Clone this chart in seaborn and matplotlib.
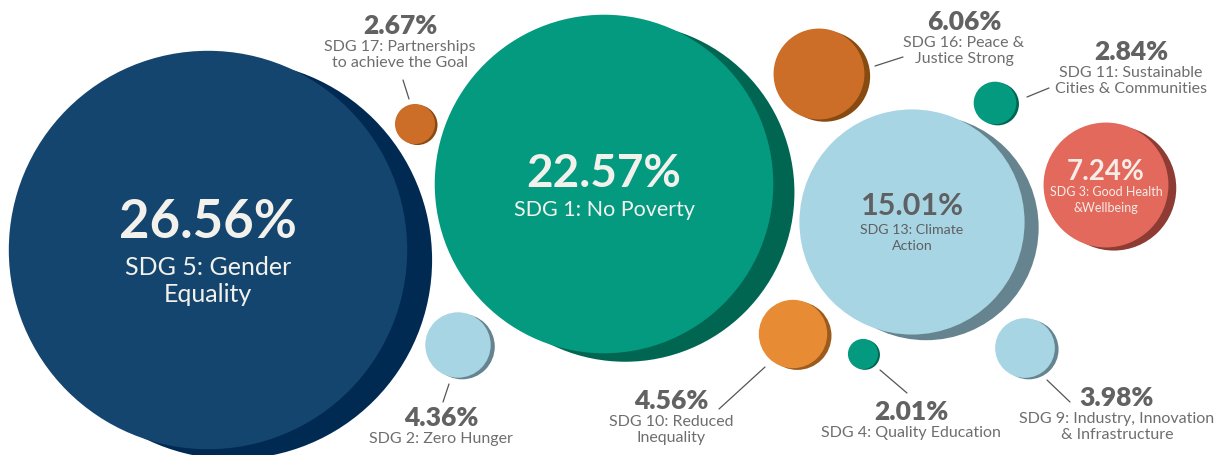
import numpy as np
import pandas as pd
import matplotlib
matplotlib.use("Agg")
import matplotlib.pyplot as plt
import seaborn as sns

# ---------------- data ----------------
goals = ["SDG 5", "SDG 1", "SDG 13", "SDG 3", "SDG 16", "SDG 11",
         "SDG 17", "SDG 2", "SDG 10", "SDG 4", "SDG 9"]
shares = [26.56, 22.57, 15.01, 7.24, 6.06, 2.84, 2.67, 4.36, 4.56, 2.01, 3.98]
names = ["SDG 5: Gender\nEquality",
         "SDG 1: No Poverty",
         "SDG 13: Climate\nAction",
         "SDG 3: Good Health\n&Wellbeing",
         "SDG 16: Peace &\nJustice Strong",
         "SDG 11: Sustainable\nCities & Communities",
         "SDG 17: Partnerships\nto achieve the Goal",
         "SDG 2: Zero Hunger",
         "SDG 10: Reduced\nInequality",
         "SDG 4: Quality Education",
         "SDG 9: Industry, Innovation\n& Infrastructure"]

# ---------------- layout (pixel space) ----------------
cx = [208, 604, 912, 1106, 819, 995, 415, 458, 793, 863, 1025]
cy = [250, 184, 222, 185, 74, 103, 124, 345, 334, 354, 348]
RADIUS_PER_PCT = 7.5
size_scale = [1, 1, 1, 1.15, 1, 1, 1, 1, 1, 1, 1]
inside = [True, True, True, True, False, False, False, False, False, False, False]
# outside label anchor (center x, center y of percentage line)
lab_x = [0, 0, 0, 0, 964, 1131, 400, 441, 671, 911, 1117]
lab_y = [0, 0, 0, 0, 22, 52, 26, 418, 401, 412, 398]
leaders = [None, None, None, None,
           ((875, 66), (903, 57)),
           ((1027, 97), (1049, 88)),
           ((403, 80), (409, 99)),
           ((449, 384), (443, 402)),
           ((765, 367), (719, 409)),
           ((880, 370), (907, 393)),
           ((1047, 380), (1070, 402))]

main_colors = ["#14456f", "#039a80", "#a7d5e3", "#e2695b", "#cc6d28", "#039a80",
               "#cc6d28", "#a7d5e3", "#e88b35", "#039a80", "#a7d5e3"]
shadow_colors = ["#002a52", "#006652", "#66848f", "#8e3b34", "#874a10", "#006652",
                 "#874a10", "#66848f", "#9c5a1c", "#006652", "#66848f"]
inner_text = ["#f3f1ec", "#f3f1ec", "#5f6062", "#f6ece8"] + [None] * 7
inner_pct_size = [38, 33, 22, 20]
inner_name_size = [18, 15.5, 10.2, 9]
inner_pct_y = [222, 174, 206, 172]
inner_name_y = [281, 210, 238, 200]
inner_lsp = [1.25, 1.2, 1.3, 1.4]
GRAY = "#626262"

W, H = 1223, 455
fig = plt.figure(figsize=(W / 100, H / 100), dpi=100)
sns.set_style("white")
plt.rcParams["font.family"] = ["Lato", "DejaVu Sans"]
ax = fig.add_axes([0, 0, 1, 1])

df = pd.DataFrame({"goal": goals, "share": shares, "x": cx, "y": cy})
df["r"] = df["share"] * RADIUS_PER_PCT * np.array(size_scale)
df["sq"] = df["r"] ** 2
df["sx"] = df["x"] + 0.125 * df["r"]
df["sy"] = df["y"] + 0.05 * df["r"]

rmax = df["r"].max()
# marker size in pt^2: diameter(px)=2r, pt = px*0.72
smax = (2 * rmax * 0.72) ** 2
size_kw = dict(size="sq", sizes=(0, smax), size_norm=(0, rmax ** 2),
               legend=False, linewidth=0, edgecolor="none", alpha=1)

sns.scatterplot(data=df, x="sx", y="sy", hue="goal",
                palette=dict(zip(goals, shadow_colors)), ax=ax, zorder=1, **size_kw)
sns.scatterplot(data=df, x="x", y="y", hue="goal",
                palette=dict(zip(goals, main_colors)), ax=ax, zorder=2, **size_kw)
ax.set_xlim(0, W)
ax.set_ylim(H, 0)
ax.set_axis_off()

for i in range(len(goals)):
    pct = f"{shares[i]:.2f}%"
    if inside[i]:
        ax.text(cx[i], inner_pct_y[i], pct, ha="center", va="center",
                fontsize=inner_pct_size[i], fontweight="bold",
                color=inner_text[i], zorder=5)
        ax.text(cx[i], inner_name_y[i], names[i], ha="center", va="center",
                fontsize=inner_name_size[i], color=inner_text[i],
                linespacing=inner_lsp[i], zorder=5)
    else:
        ax.text(lab_x[i], lab_y[i], pct, ha="center", va="center",
                fontsize=19, fontweight="heavy", color=GRAY, zorder=5)
        ax.text(lab_x[i], lab_y[i] + 14, names[i], ha="center", va="top",
                fontsize=11.5, color="#6e6e6e", linespacing=1.15, zorder=5)
        (x0, y0), (x1, y1) = leaders[i]
        ax.plot([x0, x1], [y0, y1], color="#555555", lw=0.9, zorder=4)

fig.savefig("out.png", dpi=100)
